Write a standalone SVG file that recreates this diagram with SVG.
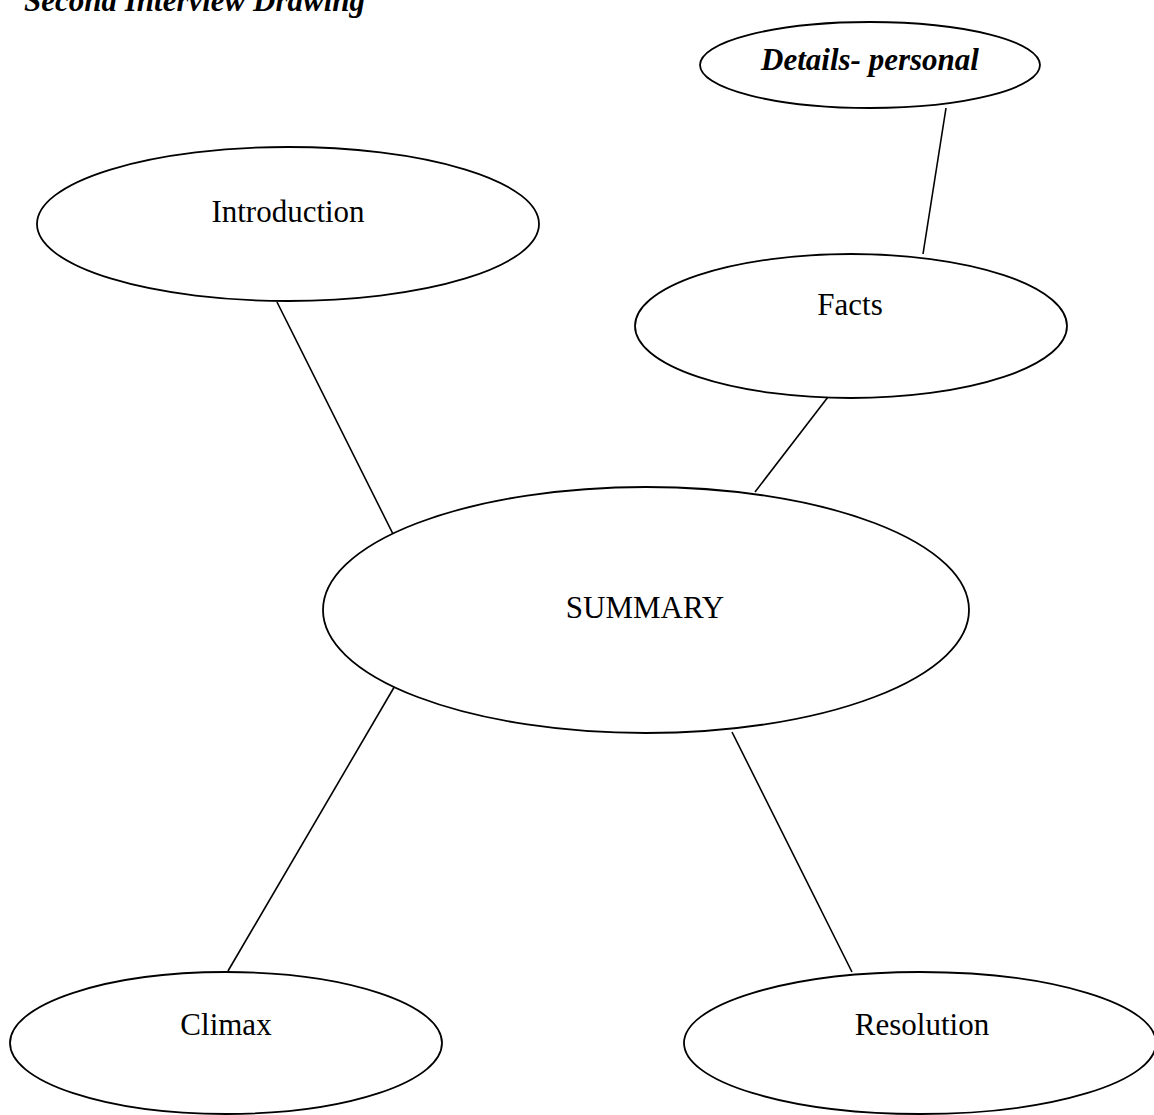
<svg xmlns="http://www.w3.org/2000/svg" width="1154" height="1115" viewBox="0 0 1154 1115">
<style>
.n{fill:#fff;stroke:#000;stroke-width:1.8}
.c line{stroke:#000;stroke-width:1.6}
text{font-family:"Liberation Serif","Times New Roman",serif;font-size:31px;fill:#000;text-anchor:middle}
.bi{font-weight:bold;font-style:italic}
</style>
<rect width="1154" height="1115" fill="#fff"/>
<text class="bi" x="24" y="11" style="text-anchor:start">Second Interview Drawing</text>
<g class="c" id="connectors">
<line x1="946" y1="108" x2="923" y2="254"/>
<line x1="277" y1="302" x2="396" y2="540"/>
<line x1="828" y1="397" x2="755" y2="492"/>
<line x1="396" y1="684" x2="228" y2="971"/>
<line x1="732" y1="732" x2="852" y2="972"/>
</g>
<g id="details"><ellipse class="n" cx="870" cy="65" rx="170" ry="43"/><text class="bi" x="870" y="70">Details- personal</text></g>
<g id="introduction"><ellipse class="n" cx="288" cy="224" rx="251" ry="77"/><text x="288" y="222">Introduction</text></g>
<g id="facts"><ellipse class="n" cx="851" cy="326" rx="216" ry="72"/><text x="850" y="315">Facts</text></g>
<g id="summary"><ellipse class="n" cx="646" cy="610" rx="323" ry="123"/><text x="645" y="618">SUMMARY</text></g>
<g id="climax"><ellipse class="n" cx="226" cy="1043" rx="216" ry="71"/><text x="226" y="1035">Climax</text></g>
<g id="resolution"><ellipse class="n" cx="920" cy="1043" rx="236" ry="71"/><text x="922" y="1035">Resolution</text></g>
</svg>
